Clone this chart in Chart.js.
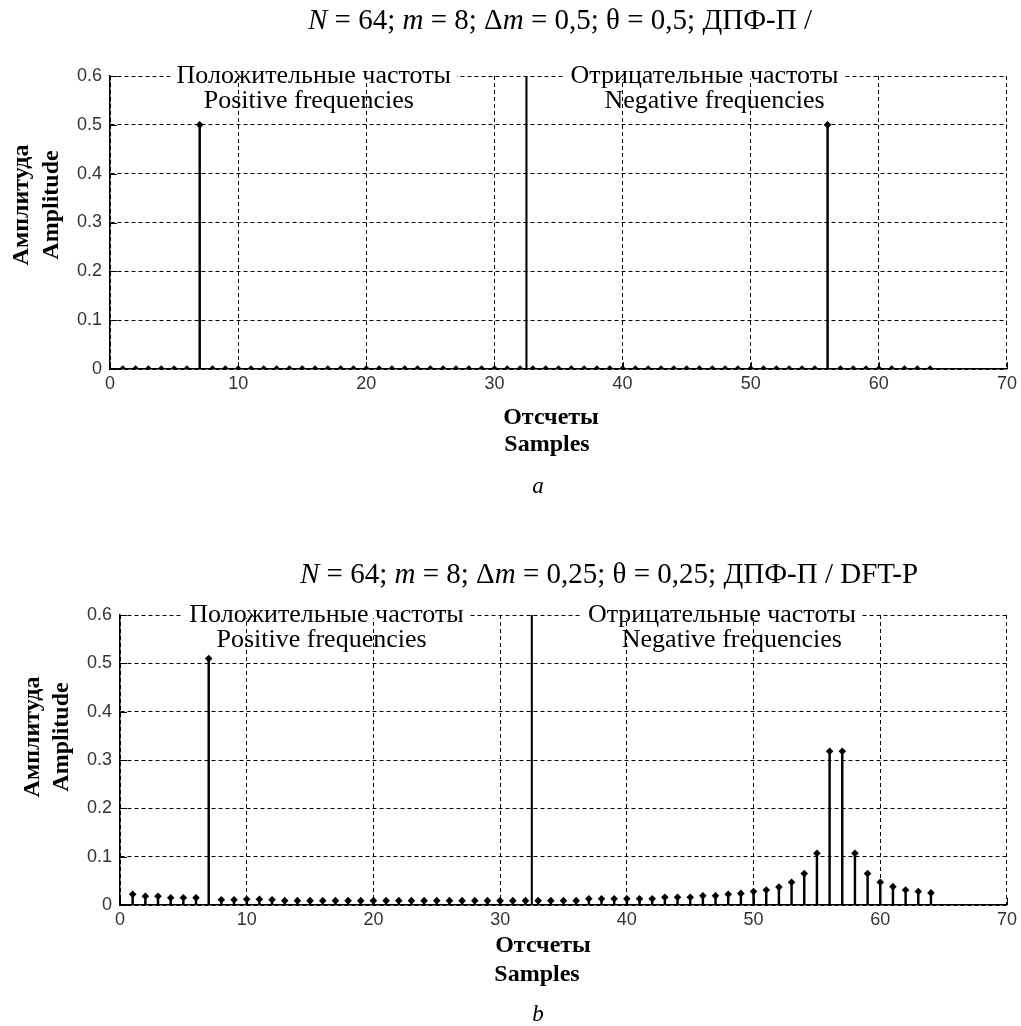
<!DOCTYPE html>
<html>
<head>
<meta charset="utf-8">
<script src="https://cdn.jsdelivr.net/npm/chart.js@4.4.0/dist/chart.umd.min.js"></script>
<style>
  html, body { margin: 0; padding: 0; background: #fff; }
  .box { position: relative; width: 1021px; height: 513px; }
</style>
</head>
<body>
<div class="box"><canvas id="chart-a"></canvas></div>
<div class="box"><canvas id="chart-b"></canvas></div>
<script>
// sample numbers 1..64
const samples = [
  1, 2, 3, 4, 5, 6, 7, 8, 9, 10, 11, 12, 13, 14, 15, 16,
  17, 18, 19, 20, 21, 22, 23, 24, 25, 26, 27, 28, 29, 30, 31, 32,
  33, 34, 35, 36, 37, 38, 39, 40, 41, 42, 43, 44, 45, 46, 47, 48,
  49, 50, 51, 52, 53, 54, 55, 56, 57, 58, 59, 60, 61, 62, 63, 64
];

// (a) dm = 0.5
const amplitudeA = [
  0, 0, 0, 0, 0, 0, 0.5, 0, 0, 0, 0, 0, 0, 0, 0, 0,
  0, 0, 0, 0, 0, 0, 0, 0, 0, 0, 0, 0, 0, 0, 0, 0,
  0, 0, 0, 0, 0, 0, 0, 0, 0, 0, 0, 0, 0, 0, 0, 0,
  0, 0, 0, 0, 0, 0, 0, 0.5, 0, 0, 0, 0, 0, 0, 0, 0
];

// (b) dm = 0.25
const amplitudeB = [
  0.022, 0.018, 0.018, 0.015, 0.015, 0.015, 0.51, 0.011, 0.011, 0.012, 0.012, 0.011, 0.009, 0.009, 0.009, 0.009,
  0.009, 0.009, 0.009, 0.009, 0.009, 0.009, 0.009, 0.009, 0.009, 0.009, 0.009, 0.009, 0.009, 0.009, 0.009, 0.009,
  0.009, 0.009, 0.009, 0.009, 0.013, 0.013, 0.013, 0.013, 0.013, 0.013, 0.016, 0.016, 0.016, 0.019, 0.019, 0.022,
  0.024, 0.028, 0.031, 0.037, 0.047, 0.065, 0.107, 0.318, 0.318, 0.107, 0.065, 0.047, 0.038, 0.031, 0.028, 0.025
];

const separatorX = 32.5;
const xTicks = [0, 10, 20, 30, 40, 50, 60, 70];
const yTicks = [0, 0.1, 0.2, 0.3, 0.4, 0.5, 0.6];

const titleA = [['N', true], [' = 64; ', false], ['m', true], [' = 8; Δ', false], ['m', true], [' = 0,5; θ = 0,5; ДПФ-П /', false]];
const titleB = [['N', true], [' = 64; ', false], ['m', true], [' = 8; Δ', false], ['m', true], [' = 0,25; θ = 0,25; ДПФ-П / DFT-P', false]];
const bandPos = ['Положительные частоты', 'Positive frequencies'];
const bandNeg = ['Отрицательные частоты', 'Negative frequencies'];
const yTitle = ['Амплитуда', 'Amplitude'];
const xTitle = ['Отсчеты', 'Samples'];

const SERIF = '"Liberation Serif", "Times New Roman", serif';

// draws titles, captions and band labels, plus inner tick marks
const textPlugin = {
  id: 'texts',
  afterDraw(chart, args, opts) {
    const ctx = chart.ctx;
    const xs = chart.scales.x, ys = chart.scales.y;
    const area = chart.chartArea;

    // inner ticks
    ctx.save();
    ctx.strokeStyle = '#000';
    ctx.lineWidth = 1;
    yTicks.forEach(v => {
      const py = Math.round(ys.getPixelForValue(v)) + 0.5;
      ctx.beginPath();
      ctx.moveTo(area.left, py);
      ctx.lineTo(area.left + 7, py);
      ctx.stroke();
    });
    xTicks.forEach(v => {
      const px = Math.round(xs.getPixelForValue(v)) + 0.5;
      ctx.beginPath();
      ctx.moveTo(px, area.bottom);
      ctx.lineTo(px, area.bottom - 7);
      ctx.stroke();
    });
    ctx.restore();

    ctx.save();
    ctx.fillStyle = '#000';
    ctx.textBaseline = 'middle';

    // title with italic pieces, starting at titleX
    const tFont = (it) => (it ? 'italic ' : '') + opts.titleSize + 'px ' + SERIF;
    let cx = opts.titleX;
    ctx.textAlign = 'left';
    opts.title.forEach(([t, it]) => {
      ctx.font = tFont(it);
      ctx.fillText(t, cx, opts.titleY);
      cx += ctx.measureText(t).width;
    });

    // band labels
    ctx.textAlign = 'center';
    ctx.font = opts.bandSize + 'px ' + SERIF;
    opts.bands.forEach(b => {
      const px = xs.getPixelForValue(b.x);
      const py1 = ys.getPixelForValue(0.6);
      const py2 = py1 + opts.bandGap;
      const w = ctx.measureText(b.lines[0]).width;
      ctx.fillStyle = '#fff';
      ctx.fillRect(px - w / 2 - 6, py1 - 3, w + 12, 6);
      ctx.fillStyle = '#000';
      ctx.fillText(b.lines[0], px, py1);
      ctx.fillText(b.lines[1], px + b.shift, py2);
    });

    // axis titles
    ctx.font = 'bold ' + opts.axisSize + 'px ' + SERIF;
    opts.xTitle.forEach((t, i) => ctx.fillText(t, opts.xTitleX[i], opts.xTitleY[i]));
    opts.yTitle.forEach((t, i) => {
      ctx.save();
      ctx.translate(opts.yTitleX[i], opts.yTitleY);
      ctx.rotate(-Math.PI / 2);
      ctx.fillText(t, 0, 0);
      ctx.restore();
    });

    // caption
    ctx.font = 'italic 23px ' + SERIF;
    ctx.fillText(opts.caption, opts.captionX, opts.captionY);
    ctx.restore();
  }
};

function makeChart(id, values, geom, texts) {
  const ctx = document.getElementById(id);
  return new Chart(ctx, {
    type: 'bar',
    data: {
      datasets: [
        {
          type: 'bar',
          data: samples.map((s, i) => ({ x: s, y: values[i] })),
          backgroundColor: '#000',
          borderWidth: 0,
          barThickness: 1.8,
          grouped: false,
          order: 2
        },
        {
          type: 'bar',
          data: [{ x: separatorX, y: 0.6 }],
          backgroundColor: '#000',
          borderWidth: 0,
          barThickness: 1.4,
          grouped: false,
          order: 3
        },
        {
          type: 'line',
          data: samples.map((s, i) => ({ x: s, y: values[i] })),
          showLine: false,
          pointStyle: 'rectRot',
          pointRadius: 3.8,
          pointBackgroundColor: '#000',
          pointBorderWidth: 0,
          order: 1
        }
      ]
    },
    options: {
      responsive: true,
      maintainAspectRatio: false,
      animation: false,
      events: [],
      layout: { padding: { left: 0, right: geom.right, top: geom.top, bottom: geom.bottom } },
      plugins: {
        legend: { display: false },
        tooltip: { enabled: false },
        texts
      },
      scales: {
        x: {
          type: 'linear',
          min: 0,
          max: 70,
          offset: false,
          afterBuildTicks: (s) => { s.ticks = xTicks.map(v => ({ value: v })); },
          afterFit: (s) => { s.height = 30; },
          grid: { color: '#000', lineWidth: 1, drawTicks: false, offset: false },
          border: { display: true, color: '#000', width: 1.5, dash: [4, 3] },
          ticks: {
            color: '#333',
            padding: 4,
            font: { family: '"Liberation Sans", Arial, sans-serif', size: 18 }
          }
        },
        y: {
          min: 0,
          max: 0.6,
          afterBuildTicks: (s) => { s.ticks = yTicks.map(v => ({ value: v })); },
          afterFit: (s) => { s.width = geom.left; },
          grid: { color: '#000', lineWidth: 1, drawTicks: false },
          border: { display: true, color: '#000', width: 1.5, dash: [4, 3] },
          ticks: {
            color: '#333',
            padding: 8,
            font: { family: '"Liberation Sans", Arial, sans-serif', size: 18 },
            callback: (v) => (v === 0 ? '0' : v.toFixed(1))
          }
        }
      }
    },
    plugins: [textPlugin]
  });
}

makeChart('chart-a', amplitudeA,
  { left: 110, right: 13, top: 76, bottom: 513 - 369 - 30 },
  {
    title: titleA, titleX: 308, titleY: 21, titleSize: 29,
    bands: [{ x: 15.9, shift: -5, lines: bandPos }, { x: 46.4, shift: 10, lines: bandNeg }],
    bandSize: 26, bandGap: 25,
    xTitle, xTitleX: [551, 547], xTitleY: [418, 445], axisSize: 24,
    yTitle, yTitleX: [22, 52], yTitleY: 205,
    caption: 'a', captionX: 538, captionY: 487
  });

makeChart('chart-b', amplitudeB,
  { left: 120, right: 12, top: 102, bottom: 513 - 392 - 30 },
  {
    title: titleB, titleX: 300, titleY: 62, titleSize: 29,
    bands: [{ x: 16.3, shift: -5, lines: bandPos }, { x: 47.5, shift: 10, lines: bandNeg }],
    bandSize: 26, bandGap: 25,
    xTitle, xTitleX: [543, 537], xTitleY: [433, 462], axisSize: 24,
    yTitle, yTitleX: [33, 62], yTitleY: 224,
    caption: 'b', captionX: 538, captionY: 502
  });
</script>
</body>
</html>
